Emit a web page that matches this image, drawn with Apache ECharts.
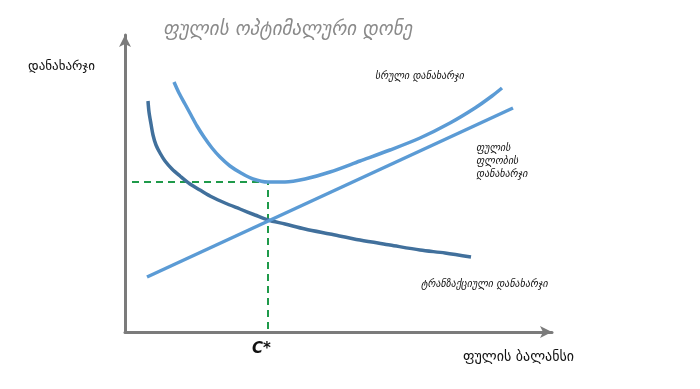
<!DOCTYPE html>
<html><head><meta charset="utf-8">
<script src="https://cdn.jsdelivr.net/npm/echarts@6/dist/echarts.min.js"></script>
<style>html,body{margin:0;padding:0;background:#fff}#c{width:700px;height:389px}</style>
</head><body><div id="c"></div>
<script>
// Values in arbitrary units (x: money balance, y: cost)
const transactionCost = [[23,231],[24,220],[26,208],[28,197],[31,187],[35,179],[40,171],[47,163],[55,156],[65,148],[75,142],[87,135],[100,129],[115,123],[130,117],[143,112],[160,108],[180,103],[205,98],[235,92],[265,87],[295,82],[320,79],[346,75]];
const holdingCost = [[22,55],[388,224]];
const totalCost = [[49,250],[54,239],[60,228],[66,217],[72,206],[79,195],[87,184],[95,175],[105,166],[116,159],[128,153],[143,150],[160,150],[180,153],[205,160],[235,171],[265,182],[295,194],[325,209],[350,224],[367,236],[377,244]];
const optimumC = 143, optimumCost = 150;
const guideStartX = 7;

const titleText = 'ფულის ოპტიმალური დონე';
const yLabel = 'დანახარჯი';
const xLabel = 'ფულის ბალანსი';
const totalLabel = 'სრული დანახარჯი';
const holdingLabel = 'ფულის\nფლობის\nდანახარჯი';
const transLabel = 'ტრანზაქციული დანახარჯი';
const cStar = 'C*';

const chart = echarts.init(document.getElementById('c'));
const axisCol = '#7b7b7b';
const dark = '#41709c', light = '#5b9bd5', green = '#1f9a4a';
chart.setOption({
  animation:false,
  grid:{left:125, top:35, width:427, height:297},
  xAxis:{type:'value', min:0, max:427, axisLine:{lineStyle:{color:axisCol,width:3}, symbol:['none','arrow'], symbolSize:[9,12]},
    axisTick:{show:false}, axisLabel:{show:false}, splitLine:{show:false}},
  yAxis:{type:'value', min:0, max:297, axisLine:{show:true, lineStyle:{color:axisCol,width:3}, symbol:['none','arrow'], symbolSize:[9,12]},
    axisTick:{show:false}, axisLabel:{show:false}, splitLine:{show:false}},
  series:[
    {type:'line', data:[[guideStartX,optimumCost],[optimumC,optimumCost],[optimumC,0]], showSymbol:false, lineStyle:{color:green,width:2,type:[7,5]}},
    {type:'line', data:transactionCost, smooth:0.3, showSymbol:false, lineStyle:{color:dark,width:3.5}},
    {type:'line', data:holdingCost, showSymbol:false, lineStyle:{color:light,width:3.5}},
    {type:'line', data:totalCost, smooth:0.3, showSymbol:false, lineStyle:{color:light,width:3.5}}
  ],
  graphic:[
    {type:'text', left:163, top:21, style:{text:titleText, fill:'#8a8a8a', font:'italic 19px "DejaVu Sans"'}},
    {type:'text', left:28, top:60, style:{text:yLabel, fill:'#111', font:'13px "DejaVu Sans"'}},
    {type:'text', left:375, top:71, style:{text:totalLabel, fill:'#111', font:'italic 10px "DejaVu Sans"'}},
    {type:'text', left:476, top:142, style:{text:holdingLabel, fill:'#111', font:'italic 10px "DejaVu Sans"', lineHeight:13}},
    {type:'text', left:421, top:279, style:{text:transLabel, fill:'#111', font:'italic 10px "DejaVu Sans"'}},
    {type:'text', left:252, top:342, style:{text:cStar, fill:'#111', font:'italic bold 15px "DejaVu Sans"'}},
    {type:'text', left:463, top:350, style:{text:xLabel, fill:'#111', font:'14px "DejaVu Sans"'}}
  ]
});
</script></body></html>
